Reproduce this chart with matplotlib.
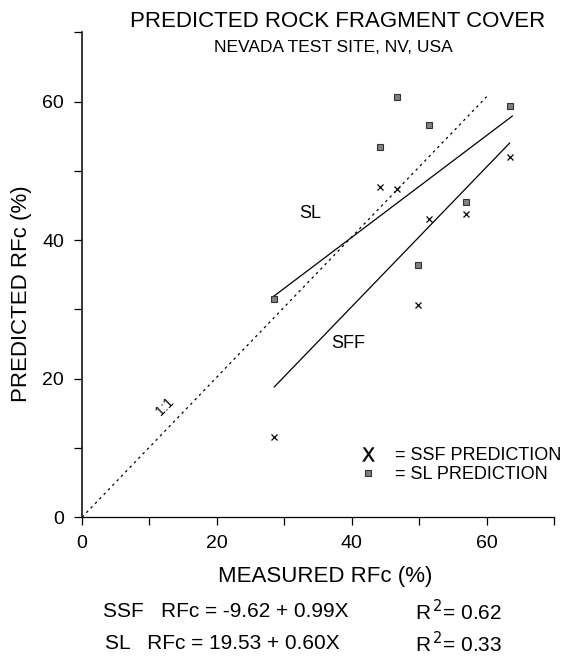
import numpy as np
import matplotlib
matplotlib.use('Agg')
import matplotlib.pyplot as plt
from matplotlib.lines import Line2D
import matplotlib.ticker as ticker

plt.rcParams['font.family'] = ['Liberation Sans', 'DejaVu Sans']

# measured vs predicted rock fragment cover (%)
ssf_x = [44.2, 46.7, 63.5, 51.4, 57.0, 49.8, 28.5]
ssf_y = [47.7, 47.4, 52.0, 43.1, 43.8, 30.6, 11.6]
sl_x = [46.7, 63.5, 51.4, 44.2, 56.9, 49.8, 28.5]
sl_y = [60.7, 59.4, 56.6, 53.5, 45.5, 36.4, 31.5]

# fitted lines as drawn
ssf_fit_x = [28.5, 63.4]
ssf_fit_y = [18.8, 54.0]
sl_fit_x = [28.3, 63.8]
sl_fit_y = [31.8, 57.9]
one_x = [0, 60]
one_y = [0, 60.7]

fig = plt.figure(figsize=(5.62, 6.58), dpi=100)
ax = fig.add_axes([0.146, 0.214, 0.84, 0.737])

ax.plot(one_x, one_y, color='black', lw=0.9, linestyle=(0, (2, 3)))
ax.plot(ssf_fit_x, ssf_fit_y, color='black', lw=0.9)
ax.plot(sl_fit_x, sl_fit_y, color='black', lw=0.9)
ax.plot(ssf_x, ssf_y, 'x', color='black', ms=5, mew=0.9)
ax.plot(sl_x, sl_y, 's', mfc='#808080', mec='#333333', ms=5, mew=0.8)

ax.text(33.8, 43.8, 'SL', fontsize=13, ha='center', va='center')
ax.text(39.5, 25.0, 'SFF', fontsize=13, ha='center', va='center')
ax.text(12.3, 16.0, '1:1', fontsize=10, rotation=45, ha='center', va='center')

h1 = Line2D([], [], marker='$\\mathsf{X}$', color='black', ls='none', ms=10, mew=0.3)
h2 = Line2D([], [], marker='s', mfc='#808080', mec='#333333', ls='none', ms=5, mew=0.8)
ax.legend([h1, h2], ['= SSF PREDICTION', '= SL PREDICTION'], loc='lower right',
          bbox_to_anchor=(1.03, 0.055), frameon=False, fontsize=13,
          handletextpad=0.5, labelspacing=0.1, borderaxespad=0)

ax.set_xlim(0, 70)
ax.set_ylim(0, 70)
ax.xaxis.set_major_locator(ticker.MultipleLocator(20))
ax.xaxis.set_minor_locator(ticker.MultipleLocator(10))
ax.yaxis.set_major_locator(ticker.MultipleLocator(20))
ax.yaxis.set_minor_locator(ticker.MultipleLocator(10))
ax.tick_params(which='both', direction='out', length=6, width=0.9, labelsize=14, pad=7)
ax.spines['top'].set_visible(False)
ax.spines['right'].set_visible(False)
ax.spines['left'].set_linewidth(1.1)
ax.spines['bottom'].set_linewidth(0.9)

ax.set_xlabel('MEASURED RFc (%)', fontsize=16)
ax.set_ylabel('PREDICTED RFc (%)', fontsize=16)
ax.xaxis.set_label_coords(0.515, -0.1)
ax.yaxis.set_label_coords(-0.107, 0.46)

fig.text(0.6, 0.968, 'PREDICTED ROCK FRAGMENT COVER', fontsize=16, ha='center', va='center')
fig.text(0.593, 0.928, 'NEVADA TEST SITE, NV, USA', fontsize=12.5, ha='center', va='center')

fig.text(0.183, 0.07, 'SSF   RFc = -9.62 + 0.99X', fontsize=15, ha='left', va='center')
fig.text(0.738, 0.07, 'R$^{\\,2}$= 0.62', fontsize=15, ha='left', va='center')
fig.text(0.187, 0.022, 'SL   RFc = 19.53 + 0.60X', fontsize=15, ha='left', va='center')
fig.text(0.738, 0.022, 'R$^{\\,2}$= 0.33', fontsize=15, ha='left', va='center')

fig.savefig('out.png', dpi=100)
